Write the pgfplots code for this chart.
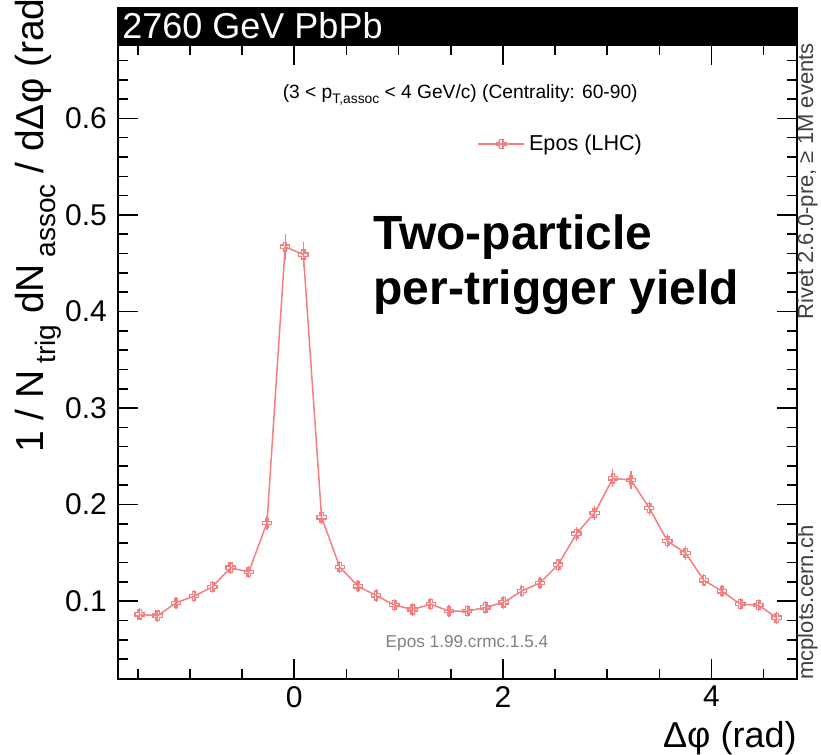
\documentclass[border=0pt]{standalone}
\usepackage{fontspec}
\setmainfont{Liberation Sans}
\usepackage{graphicx}
\usepackage{pgfplots}
\pgfplotsset{compat=1.18}
\definecolor{epos}{RGB}{250,125,125}
\pgfdeclareplotmark{ocross}{%
  \pgfpathmoveto{\pgfpoint{-0.36\pgfplotmarksize}{\pgfplotmarksize}}%
  \pgfpathlineto{\pgfpoint{0.36\pgfplotmarksize}{\pgfplotmarksize}}%
  \pgfpathlineto{\pgfpoint{0.36\pgfplotmarksize}{0.36\pgfplotmarksize}}%
  \pgfpathlineto{\pgfpoint{\pgfplotmarksize}{0.36\pgfplotmarksize}}%
  \pgfpathlineto{\pgfpoint{\pgfplotmarksize}{-0.36\pgfplotmarksize}}%
  \pgfpathlineto{\pgfpoint{0.36\pgfplotmarksize}{-0.36\pgfplotmarksize}}%
  \pgfpathlineto{\pgfpoint{0.36\pgfplotmarksize}{-\pgfplotmarksize}}%
  \pgfpathlineto{\pgfpoint{-0.36\pgfplotmarksize}{-\pgfplotmarksize}}%
  \pgfpathlineto{\pgfpoint{-0.36\pgfplotmarksize}{-0.36\pgfplotmarksize}}%
  \pgfpathlineto{\pgfpoint{-\pgfplotmarksize}{-0.36\pgfplotmarksize}}%
  \pgfpathlineto{\pgfpoint{-\pgfplotmarksize}{0.36\pgfplotmarksize}}%
  \pgfpathlineto{\pgfpoint{-0.36\pgfplotmarksize}{0.36\pgfplotmarksize}}%
  \pgfpathclose\pgfusepathqstroke}
\newcommand\sub[1]{\raisebox{-0.55ex}{\scalebox{0.72}{#1}}}
\newcommand\supr[1]{\raisebox{0.8ex}{\scalebox{0.72}{#1}}}

\pgfplotstableread{
x y e
-1.4835 0.0863 0.003
-1.3090 0.0849 0.003
-1.1345 0.0983 0.003
-0.9599 0.1052 0.003
-0.7854 0.1148 0.003
-0.6109 0.1347 0.003
-0.4363 0.1302 0.003
-0.2618 0.1811 0.004
-0.0873 0.4670 0.010
0.0873 0.4590 0.010
0.2618 0.1869 0.004
0.4363 0.1354 0.003
0.6109 0.1155 0.003
0.7854 0.1059 0.003
0.9599 0.0959 0.003
1.1345 0.0914 0.003
1.3090 0.0969 0.003
1.4835 0.0897 0.003
1.6581 0.0897 0.003
1.8326 0.0935 0.003
2.0071 0.0987 0.003
2.1817 0.1106 0.003
2.3562 0.1189 0.003
2.5307 0.1378 0.003
2.7053 0.1698 0.004
2.8798 0.1914 0.004
3.0543 0.2271 0.006
3.2289 0.2254 0.006
3.4034 0.1966 0.004
3.5779 0.1622 0.004
3.7525 0.1498 0.004
3.9270 0.1216 0.003
4.1015 0.1103 0.003
4.2761 0.0969 0.003
4.4506 0.0959 0.003
4.6251 0.0828 0.003
}\eposdata

\begin{document}
\begin{tikzpicture}
\useasboundingbox (-59pt,-38pt) rectangle (351.5pt,339.5pt);
\begin{axis}[
  scale only axis, width=339.5pt, height=317pt,
  xmin=-1.69, xmax=4.82, ymin=0.0194, ymax=0.676,
  xtick={0,2,4}, xticklabels={0,2,4},
  minor xtick={-1.5,-1,-0.5,0.5,1,1.5,2.5,3,3.5,4.5},
  ytick={0.1,0.2,0.3,0.4,0.5,0.6}, yticklabels={0.1,0.2,0.3,0.4,0.5,0.6},
  minor ytick={0.02,0.04,0.06,0.08,0.12,0.14,0.16,0.18,0.22,0.24,0.26,0.28,0.32,0.34,0.36,0.38,0.42,0.44,0.46,0.48,0.52,0.54,0.56,0.58,0.62,0.64,0.66},
  tick align=inside, major tick length=10pt, minor tick length=5pt,
  axis line style={line width=1pt},
  every tick/.style={line width=0.8pt, black},
  ticklabel style={font=\fontsize{15}{15}\selectfont},
  /pgf/number format/assume math mode=true,
  yticklabel style={xshift=-2pt},
  legend style={draw=none, fill=none, at={(rel axis cs:0.529,0.844)}, anchor=west,
    font=\fontsize{10.8}{12}\selectfont, inner sep=0pt},
  legend image code/.code={\draw[#1, mark repeat=2, mark phase=2] plot coordinates {(0pt,0pt) (11.5pt,0pt) (23pt,0pt)};},
]
\addplot[color=epos, line width=0.75pt, mark=ocross, mark size=2.3pt,
  mark options={solid, line width=0.65pt},
  error bars/.cd, y dir=both, y explicit,
  error bar style={line width=0.6pt, epos},
  error mark options={epos, mark size=1.6pt, line width=0.6pt}]
  table[x=x, y=y, y error=e] {\eposdata};
\addlegendentry{Epos (LHC)}
\node[anchor=center, font=\fontsize{9.6}{10}\selectfont] at (rel axis cs:0.504,0.921)
  {(3 < p\sub{T,assoc} < 4 GeV/c) (Centrality: 60-90)};
\node[anchor=base west, inner sep=0pt, font=\bfseries\fontsize{24}{24}\selectfont] at (rel axis cs:0.3756,0.6767) {Two-particle};
\node[anchor=base west, inner sep=0pt, font=\bfseries\fontsize{24}{24}\selectfont] at (rel axis cs:0.3756,0.5899) {per-trigger yield};
\node[anchor=center, text=black!50, font=\fontsize{8.6}{9}\selectfont] at (rel axis cs:0.514,0.0568) {Epos 1.99.crmc.1.5.4};
\end{axis}
\fill[black] (-0.5pt,317pt) rectangle (340pt,336pt);
\node[anchor=base west, inner sep=0pt, text=white, font=\fontsize{18}{18}\selectfont] at (2pt,320pt) {2760 GeV PbPb};
\node[anchor=base west, inner sep=0pt, rotate=90, text=black!75, font=\fontsize{11}{11}\selectfont] at (347.5pt,-0.5pt) {mcplots.cern.ch};
\node[anchor=base east, inner sep=0pt, rotate=90, text=black!75, font=\fontsize{11}{11}\selectfont] at (347.5pt,318pt) {Rivet 2.6.0-pre, ≥ 1M events};
\node[anchor=base east, inner sep=0pt, font=\fontsize{18}{18}\selectfont] at (339.5pt,-34.5pt) {Δφ (rad)};
\node[anchor=base west, inner sep=0pt, rotate=90, font=\fontsize{19.5}{20}\selectfont] at (-37pt,113pt)
  {1 / N\,\sub{trig} dN\,\sub{assoc} / dΔφ (rad\supr{-1})};
\end{tikzpicture}
\end{document}
